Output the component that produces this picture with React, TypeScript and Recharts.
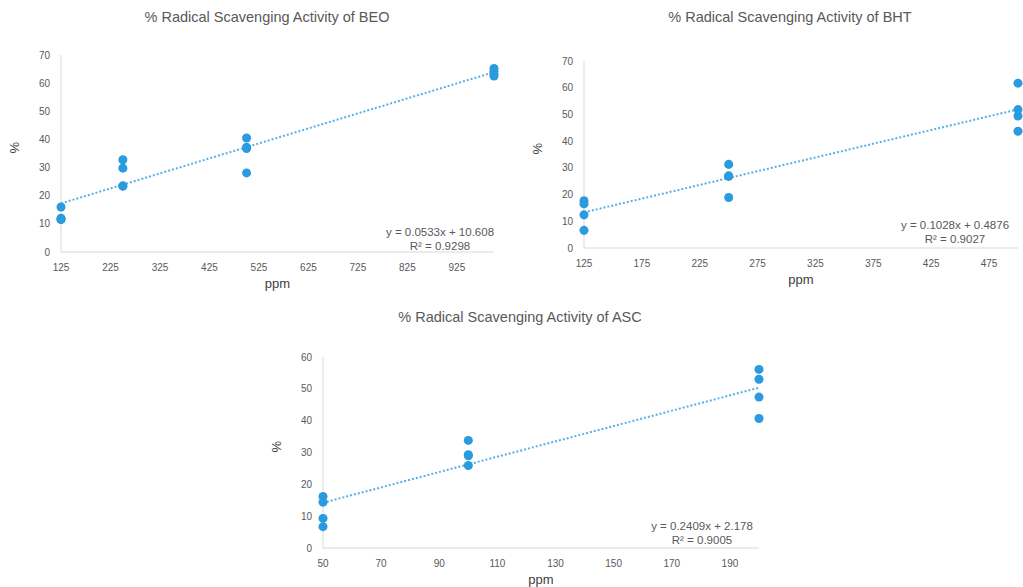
import { Scatter, ScatterChart, XAxis, YAxis, ZAxis } from "recharts";

// BEO
const beoX = [125, 125, 125, 125, 250, 250, 250, 250, 500, 500, 500, 500, 1000, 1000, 1000, 1000];
const beoY = [16, 12, 11.7, 11.5, 32.8, 29.8, 23.5, 23.4, 40.5, 37.2, 36.8, 28.1, 65.2, 64.2, 63.2, 62.5];
const beoTicks = [125, 225, 325, 425, 525, 625, 725, 825, 925];

// BHT
const bhtX = [125, 125, 125, 125, 250, 250, 250, 250, 500, 500, 500, 500];
const bhtY = [17.7, 16.5, 12.4, 6.6, 31.3, 27.0, 26.8, 18.9, 61.7, 51.8, 49.4, 43.7];
const bhtTicks = [125, 175, 225, 275, 325, 375, 425, 475];

// ASC
const ascX = [50, 50, 50, 50, 100, 100, 100, 100, 200, 200, 200, 200];
const ascY = [16.2, 14.4, 9.3, 6.7, 33.8, 29.3, 29.0, 25.9, 56.1, 53.0, 47.4, 40.7];
const ascTicks = [50, 70, 90, 110, 130, 150, 170, 190];

const FONT = "'Liberation Sans', Arial, sans-serif";
const TEXT = "#595959";
const AXIS = "#d9d9d9";
const DOT = "#2a9bdf";
const TREND = "#5aaee6";

interface PanelProps {
  title: string;
  xs: number[];
  ys: number[];
  xDomain: [number, number];
  xTicks: number[];
  yMax: number;
  slope: number;
  intercept: number;
  r2: string;
  left: number;
  top: number;
  width: number;
  height: number;
  margin: { top: number; right: number; bottom: number; left: number };
  titleX: number;
  titleY: number;
  eqX: number;
  eqY: number;
}

function Panel(p: PanelProps) {
  const points = p.xs.map((x, i) => ({ x, y: p.ys[i] }));
  // trend line endpoints from the printed equation
  const trend = p.xDomain.map((x) => ({ x, y: p.slope * x + p.intercept }));
  const yTicks: number[] = [];
  for (let v = 0; v <= p.yMax; v += 10) yTicks.push(v);
  const sign = p.intercept >= 0 ? "+" : "-";

  return (
    <div style={{ position: "absolute", left: p.left, top: p.top, width: p.width, height: p.height }}>
      <div
        style={{
          position: "absolute",
          left: p.titleX - 200,
          width: 400,
          top: p.titleY,
          textAlign: "center",
          fontFamily: FONT,
          fontSize: 14.5,
          color: TEXT,
          whiteSpace: "nowrap",
        }}
      >
        {p.title}
      </div>
      <ScatterChart width={p.width} height={p.height} margin={p.margin}>
        <XAxis
          type="number"
          dataKey="x"
          domain={p.xDomain}
          ticks={p.xTicks}
          tickLine={false}
          tickSize={0}
          tickMargin={12}
          stroke={AXIS}
          height={36}
          tick={{ fontSize: 10, fill: TEXT, fontFamily: FONT }}
          label={{ value: "ppm", position: "insideBottom", offset: 0, fontSize: 13, fill: "#404040", fontFamily: FONT }}
        />
        <YAxis
          type="number"
          dataKey="y"
          domain={[0, p.yMax]}
          ticks={yTicks}
          tickLine={false}
          tickSize={0}
          tickMargin={11}
          width={61}
          axisLine={{ stroke: AXIS }}
          tick={{ fontSize: 10, fill: TEXT, fontFamily: FONT }}
          label={{ value: "%", angle: -90, position: "insideLeft", offset: 14, fontSize: 13, fill: "#404040", fontFamily: FONT }}
        />
        <ZAxis range={[52, 52]} />
        <Scatter
          data={trend}
          line={{ stroke: TREND, strokeWidth: 2, strokeDasharray: "2 2" }}
          shape={() => <g />}
          isAnimationActive={false}
        />
        <Scatter data={points} fill={DOT} isAnimationActive={false} />
      </ScatterChart>
      <div
        style={{
          position: "absolute",
          left: p.eqX - 80,
          width: 160,
          top: p.eqY,
          textAlign: "center",
          fontFamily: FONT,
          fontSize: 11.5,
          lineHeight: "14px",
          color: TEXT,
        }}
      >
        <div>
          y = {p.slope}x {sign} {Math.abs(p.intercept)}
        </div>
        <div>R² = {p.r2}</div>
      </div>
    </div>
  );
}

export default function App() {
  return (
    <div style={{ position: "absolute", left: 0, top: 0, width: 1023, height: 587, background: "#fff", overflow: "hidden" }}>
      <Panel
        title="% Radical Scavenging Activity of BEO"
        xs={beoX}
        ys={beoY}
        xDomain={[125, 1000]}
        xTicks={beoTicks}
        yMax={70}
        slope={0.0533}
        intercept={10.608}
        r2="0.9298"
        left={0}
        top={0}
        width={520}
        height={300}
        margin={{ top: 55, right: 26, bottom: 12, left: 0 }}
        titleX={267}
        titleY={9}
        eqX={440}
        eqY={225}
      />
      <Panel
        title="% Radical Scavenging Activity of BHT"
        xs={bhtX}
        ys={bhtY}
        xDomain={[125, 500]}
        xTicks={bhtTicks}
        yMax={70}
        slope={0.1028}
        intercept={0.4876}
        r2="0.9027"
        left={523}
        top={0}
        width={500}
        height={300}
        margin={{ top: 61, right: 5, bottom: 16, left: 0 }}
        titleX={267}
        titleY={9}
        eqX={432}
        eqY={218}
      />
      <Panel
        title="% Radical Scavenging Activity of ASC"
        xs={ascX}
        ys={ascY}
        xDomain={[50, 200]}
        xTicks={ascTicks}
        yMax={60}
        slope={0.2409}
        intercept={2.178}
        r2="0.9005"
        left={262}
        top={300}
        width={520}
        height={300}
        margin={{ top: 57, right: 23, bottom: 16, left: 0 }}
        titleX={258}
        titleY={9}
        eqX={440}
        eqY={219}
      />
    </div>
  );
}
